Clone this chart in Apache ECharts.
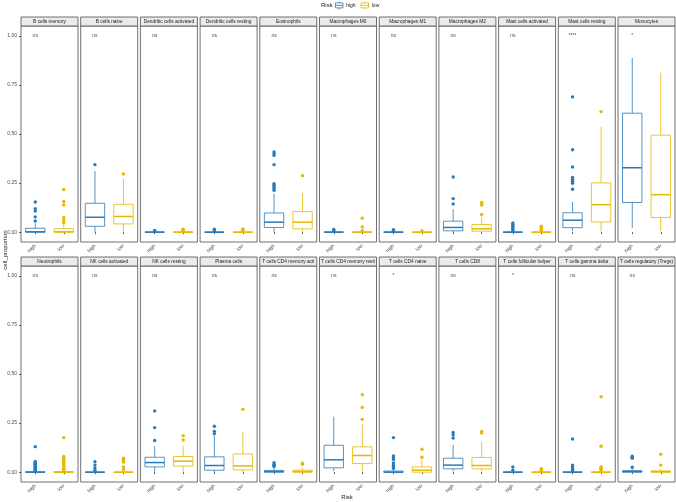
<!DOCTYPE html>
<html>
<head>
<meta charset="utf-8">
<script src="https://cdn.jsdelivr.net/npm/echarts@6/dist/echarts.min.js"></script>
<style>
html, body { margin: 0; padding: 0; background: #fff; }
#main { width: 676px; height: 502px; }
</style>
</head>
<body>
<div id="main"></div>
<script>
// facet names, in panel order (2 rows x 11)
const cellTypes = [
  'B cells memory', 'B cells naive', 'Dendritic cells activated', 'Dendritic cells resting',
  'Eosinophils', 'Macrophages M0', 'Macrophages M1', 'Macrophages M2',
  'Mast cells activated', 'Mast cells resting', 'Monocytes',
  'Neutrophils', 'NK cells activated', 'NK cells resting', 'Plasma cells',
  'T cells CD4 memory activated', 'T cells CD4 memory resting', 'T cells CD4 naive',
  'T cells CD8', 'T cells follicular helper', 'T cells gamma delta', 'T cells regulatory (Tregs)'
];
const sigLabels = [
  'ns', 'ns', 'ns', 'ns', 'ns', 'ns', 'ns', 'ns', 'ns', '****', '*',
  'ns', 'ns', 'ns', 'ns', 'ns', 'ns', '*', 'ns', '*', 'ns', 'ns'
];
const riskGroups = ['high', 'low'];
const yTicks = [0, 0.25, 0.5, 0.75, 1];

// [lower whisker, Q1, median, Q3, upper whisker]
const highBox = [
  [0, 0, 0.002, 0.020, 0.045],
  [0, 0.030, 0.076, 0.147, 0.311],
  [0, 0, 0, 0.001, 0.002],
  [0, 0, 0, 0, 0.001],
  [0, 0.024, 0.051, 0.098, 0.196],
  [0, 0, 0, 0.001, 0.002],
  [0, 0, 0, 0.001, 0.002],
  [0, 0.007, 0.024, 0.056, 0.118],
  [0, 0, 0, 0, 0.001],
  [0.005, 0.023, 0.061, 0.099, 0.154],
  [0.022, 0.151, 0.328, 0.606, 0.887],
  [0, 0, 0, 0.002, 0.004],
  [0, 0, 0, 0, 0.001],
  [0, 0.027, 0.049, 0.076, 0.132],
  [0, 0.010, 0.034, 0.078, 0.185],
  [0, 0, 0.003, 0.009, 0.020],
  [0.005, 0.022, 0.063, 0.137, 0.283],
  [0, 0, 0, 0.006, 0.015],
  [0.004, 0.017, 0.036, 0.071, 0.140],
  [0, 0, 0, 0, 0.001],
  [0, 0, 0, 0, 0.001],
  [0, 0, 0.003, 0.008, 0.016]
];
const lowBox = [
  [0, 0, 0.002, 0.018, 0.040],
  [0, 0.042, 0.080, 0.142, 0.272],
  [0, 0, 0, 0.001, 0.002],
  [0, 0, 0, 0, 0.001],
  [0, 0.017, 0.051, 0.105, 0.200],
  [0, 0, 0, 0.001, 0.002],
  [0, 0, 0, 0, 0.001],
  [0, 0.005, 0.017, 0.039, 0.078],
  [0, 0, 0, 0, 0.001],
  [0.004, 0.052, 0.140, 0.251, 0.535],
  [0.005, 0.075, 0.191, 0.494, 0.812],
  [0, 0, 0, 0.003, 0.006],
  [0, 0, 0, 0, 0.001],
  [0, 0.031, 0.056, 0.080, 0.135],
  [0, 0.012, 0.032, 0.093, 0.205],
  [0, 0, 0.003, 0.010, 0.022],
  [0.004, 0.044, 0.085, 0.129, 0.245],
  [0, 0, 0.010, 0.027, 0.066],
  [0.004, 0.017, 0.034, 0.075, 0.155],
  [0, 0, 0, 0, 0.001],
  [0, 0, 0, 0, 0.001],
  [0, 0, 0.002, 0.007, 0.015]
];
const highOut = [
  [0.154, 0.120, 0.108, 0.078, 0.057],
  [0.344],
  [0.009, 0.006],
  [0.015, 0.006],
  [0.408, 0.399, 0.391, 0.344, 0.247, 0.239, 0.230, 0.222, 0.213],
  [0.014, 0.010, 0.007],
  [0.013, 0.009, 0.006],
  [0.281, 0.171, 0.144],
  [0.047, 0.040, 0.034, 0.027, 0.022, 0.016, 0.010],
  [0.689, 0.420, 0.332, 0.279, 0.269, 0.259, 0.249, 0.219],
  [],
  [0.130, 0.055, 0.050, 0.045, 0.040, 0.035, 0.030, 0.025, 0.020, 0.015, 0.010, 0.006],
  [0.053, 0.036, 0.022, 0.010],
  [0.312, 0.227, 0.161],
  [0.234, 0.208, 0.196],
  [0.048, 0.040, 0.034, 0.029],
  [],
  [0.176, 0.083, 0.075, 0.065, 0.047, 0.035, 0.027, 0.020],
  [0.202, 0.190, 0.174],
  [0.027, 0.010],
  [0.169, 0.036, 0.027, 0.016, 0.008],
  [0.081, 0.076, 0.071, 0.025]
];
const lowOut = [
  [0.217, 0.156, 0.139, 0.075, 0.058, 0.048],
  [0.296],
  [0.015, 0.010, 0.007],
  [0.016, 0.011, 0.006],
  [0.288],
  [0.071, 0.027, 0.007],
  [0.007],
  [0.151, 0.145, 0.138, 0.090],
  [0.030, 0.026, 0.022, 0.018, 0.014, 0.010],
  [0.614],
  [],
  [0.176, 0.080, 0.074, 0.068, 0.060, 0.052, 0.045, 0.038, 0.030, 0.022, 0.015, 0.010],
  [0.071, 0.066, 0.061, 0.051, 0.027, 0.013],
  [0.186, 0.164],
  [0.320],
  [0.046, 0.040],
  [0.394, 0.330, 0.269],
  [0.117, 0.076],
  [0.208, 0.199],
  [0.018, 0.014, 0.010, 0.006],
  [0.384, 0.132, 0.027, 0.020, 0.016, 0.010],
  [0.091, 0.036]
];

const riskColors = ['#2A7AB8', '#E7B800'];
const font = 'Liberation Sans, Arial, sans-serif';

// facet layout
const nCol = 11;
const left0 = 21, step = 59.7, panelW = 57;
const rowTop = [26, 266], panelH = 216, stripH = 9;

function renderBox(params, api) {
  const g = api.value(0);
  const lo = api.coord([g, api.value(1)]);
  const q1 = api.coord([g, api.value(2)]);
  const md = api.coord([g, api.value(3)]);
  const q3 = api.coord([g, api.value(4)]);
  const hi = api.coord([g, api.value(5)]);
  const half = api.size([1, 0])[0] * 0.34;
  const x = q1[0];
  const color = riskColors[g];
  const st = { stroke: color, fill: '#fff', lineWidth: 0.8 };
  return {
    type: 'group',
    children: [
      { type: 'line', shape: { x1: x, y1: hi[1], x2: x, y2: q3[1] }, style: st },
      { type: 'line', shape: { x1: x, y1: q1[1], x2: x, y2: lo[1] }, style: st },
      { type: 'rect', shape: { x: x - half, y: q3[1], width: half * 2, height: q1[1] - q3[1] }, style: st },
      { type: 'line', shape: { x1: x - half, y1: md[1], x2: x + half, y2: md[1] }, style: { stroke: color, lineWidth: 1.5 } }
    ]
  };
}

const grids = [], xAxes = [], yAxes = [], series = [], graphics = [];

cellTypes.forEach(function (name, i) {
  const col = i % nCol, row = Math.floor(i / nCol);
  const left = left0 + col * step, top = rowTop[row];

  grids.push({
    left: left, top: top, width: panelW, height: panelH,
    show: true, backgroundColor: '#fff', borderColor: '#4d4d4d', borderWidth: 0.8,
    containLabel: false, outerBoundsMode: 'none'
  });
  xAxes.push({
    gridIndex: i, type: 'category', data: riskGroups,
    axisLine: { show: false },
    axisTick: { show: true, alignWithLabel: true, length: 2, lineStyle: { color: '#333', width: 0.8 } },
    axisLabel: { rotate: 45, fontSize: 5, color: '#4d4d4d', margin: 3, fontFamily: font },
    splitLine: { show: false }
  });
  yAxes.push({
    gridIndex: i, type: 'value', min: -0.05, max: 1.05,
    axisLine: { show: false },
    splitLine: { show: false },
    axisTick: { show: col === 0, length: 2, customValues: yTicks, lineStyle: { color: '#333', width: 0.8 } },
    axisLabel: {
      show: col === 0, customValues: yTicks, fontSize: 5, color: '#4d4d4d', margin: 4, fontFamily: font,
      formatter: function (v) { return v.toFixed(2); }
    }
  });

  series.push({
    type: 'custom', xAxisIndex: i, yAxisIndex: i, silent: true,
    renderItem: renderBox,
    encode: { x: 0, y: [1, 2, 3, 4, 5] },
    data: [[0].concat(highBox[i]), [1].concat(lowBox[i])],
    z: 2
  });
  series.push({
    type: 'scatter', name: 'high', xAxisIndex: i, yAxisIndex: i, silent: true,
    symbolSize: 3.4, itemStyle: { color: riskColors[0], opacity: 1 },
    data: highOut[i].map(function (v) { return ['high', v]; }), z: 3
  });
  series.push({
    type: 'scatter', name: 'low', xAxisIndex: i, yAxisIndex: i, silent: true,
    symbolSize: 3.4, itemStyle: { color: riskColors[1], opacity: 1 },
    data: lowOut[i].map(function (v) { return ['low', v]; }), z: 3
  });
  series.push({
    type: 'scatter', xAxisIndex: i, yAxisIndex: i, silent: true,
    symbolSize: 0,
    data: [['high', 1.0]],
    label: {
      show: true, position: 'inside', formatter: sigLabels[i],
      fontSize: 5, color: '#1a1a1a', fontFamily: font
    },
    z: 4
  });

  // strip on top of each panel
  graphics.push({
    type: 'rect', silent: true,
    shape: { x: left, y: top - stripH, width: panelW, height: stripH },
    style: { fill: '#EBEBEB', stroke: '#4d4d4d', lineWidth: 0.8 }
  });
  graphics.push({
    type: 'text', silent: true,
    x: left + panelW / 2, y: top - stripH / 2 + 0.3,
    style: {
      text: name, fontSize: 4.8, fill: '#1a1a1a', fontFamily: font,
      align: 'center', verticalAlign: 'middle',
      width: panelW - 1, overflow: 'truncate', ellipsis: ''
    }
  });
});

graphics.push({
  type: 'text', silent: true, x: 5, y: 250, rotation: Math.PI / 2,
  style: { text: 'cell_proportion', fontSize: 6, fill: '#1a1a1a', fontFamily: font, align: 'center', verticalAlign: 'middle' }
});
graphics.push({
  type: 'text', silent: true, x: 347, y: 497,
  style: { text: 'Risk', fontSize: 6, fill: '#1a1a1a', fontFamily: font, align: 'center', verticalAlign: 'middle' }
});
graphics.push({
  type: 'text', silent: true, x: 321, y: 5,
  style: { text: 'Risk', fontSize: 6, fill: '#1a1a1a', fontFamily: font, align: 'left', verticalAlign: 'middle' }
});

const keyIcon = 'path://M5,1 L5,2.5 M1.25,2.5 L8.75,2.5 L8.75,7.5 L1.25,7.5 Z M1.25,5 L8.75,5 M5,7.5 L5,9';

const option = {
  backgroundColor: '#fff',
  animation: false,
  textStyle: { fontFamily: font },
  legend: {
    left: 335, top: 1, padding: 0,
    itemWidth: 8, itemHeight: 8, itemGap: 5,
    textStyle: { fontSize: 5, color: '#1a1a1a', fontFamily: font, padding: [0, 0, 0, -2] },
    selectedMode: false,
    data: [
      { name: 'high', icon: keyIcon, itemStyle: { color: 'rgba(0,0,0,0)', borderColor: riskColors[0], borderWidth: 0.8 } },
      { name: 'low', icon: keyIcon, itemStyle: { color: 'rgba(0,0,0,0)', borderColor: riskColors[1], borderWidth: 0.8 } }
    ]
  },
  grid: grids,
  xAxis: xAxes,
  yAxis: yAxes,
  series: series,
  graphic: graphics
};

const chart = echarts.init(document.getElementById('main'));
chart.setOption(option);
</script>
</body>
</html>
